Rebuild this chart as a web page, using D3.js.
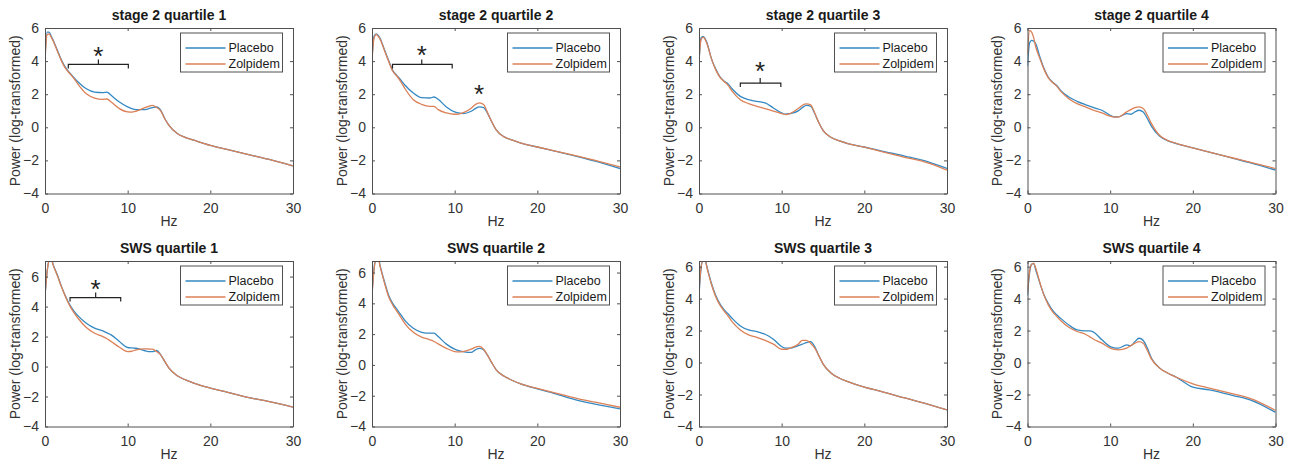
<!DOCTYPE html>
<html>
<head>
<meta charset="utf-8">
<script src="https://cdn.jsdelivr.net/npm/d3@7"></script>
<style>
  html, body { margin: 0; padding: 0; background: #fff; }
  svg { display: block; font-family: "Liberation Sans", Arial, sans-serif; }
</style>
</head>
<body>
<svg id="chart" width="1289" height="466"></svg>
<script>
// ---------------- DATA ----------------
const freq = [0,0.25,0.5,0.75,1,1.5,2,2.5,3,3.5,4,5,6,7,7.5,8,9,10,10.5,11,12,12.5,13,13.5,14,14.5,15,16,17,18,20,22,25,27,30];

const titles = ["stage 2 quartile 1","stage 2 quartile 2","stage 2 quartile 3","stage 2 quartile 4",
                "SWS quartile 1","SWS quartile 2","SWS quartile 3","SWS quartile 4"];
const seriesNames = ["Placebo","Zolpidem"];
const yMax = [6,6,6,6,7.04,6.75,6.35,6.35];
const yMin = -4;
const xTicks = [0,10,20,30];
const yTicks = [-4,-2,0,2,4,6];

const placebo = [
  [4.2,5.75,5.75,5.5,5.25,4.65,4.05,3.6,3.28,3.0,2.74,2.33,2.13,2.1,2.13,1.93,1.53,1.23,1.13,1.07,1.07,1.12,1.19,1.23,1.03,0.52,0.12,-0.38,-0.62,-0.78,-1.09,-1.33,-1.69,-1.93,-2.33],
  [4.2,5.5,5.65,5.55,5.35,4.7,4.05,3.44,3.14,2.85,2.54,2.07,1.79,1.77,1.83,1.69,1.23,0.93,0.87,0.83,0.97,1.13,1.23,1.19,0.83,0.32,-0.14,-0.58,-0.78,-0.95,-1.19,-1.43,-1.79,-2.05,-2.49],
  [3.9,5.4,5.5,5.35,5.05,4.15,3.55,3.08,2.8,2.64,2.33,1.87,1.67,1.57,1.53,1.47,1.17,0.87,0.79,0.83,0.99,1.19,1.33,1.27,0.83,0.27,-0.18,-0.62,-0.82,-0.98,-1.19,-1.42,-1.75,-1.99,-2.49],
  [3.7,5.1,5.25,5.2,5.05,4.25,3.55,3.04,2.74,2.54,2.23,1.83,1.57,1.37,1.28,1.19,1.03,0.73,0.63,0.63,0.83,0.79,0.93,1.03,0.93,0.53,0.06,-0.54,-0.82,-0.98,-1.25,-1.5,-1.89,-2.15,-2.59],
  [4.7,6.3,7.1,7.2,6.78,6.1,5.33,4.67,4.11,3.7,3.38,2.89,2.56,2.38,2.25,2.11,1.67,1.27,1.24,1.22,1.07,1.0,1.0,1.07,0.78,0.33,-0.11,-0.62,-0.89,-1.11,-1.44,-1.7,-2.11,-2.33,-2.71],
  [4.6,6.3,6.9,6.95,6.4,5.42,4.55,4.0,3.62,3.25,2.88,2.38,2.12,2.06,2.06,1.84,1.35,1.02,0.93,0.87,0.81,0.98,1.08,0.98,0.6,0.13,-0.3,-0.74,-1.01,-1.23,-1.56,-1.85,-2.32,-2.55,-2.86],
  [4.2,5.9,6.45,6.4,5.9,4.96,4.23,3.71,3.33,3.05,2.77,2.29,2.04,1.94,1.85,1.77,1.46,1.0,0.9,0.9,1.06,1.15,1.25,1.31,1.0,0.42,-0.08,-0.67,-0.98,-1.19,-1.54,-1.8,-2.23,-2.5,-2.96],
  [4.2,5.6,6.15,6.2,5.79,4.96,4.23,3.71,3.29,3.0,2.77,2.35,2.04,1.98,1.98,1.9,1.42,1.0,0.92,0.9,1.1,1.06,1.31,1.52,1.38,0.9,0.27,-0.35,-0.67,-0.92,-1.54,-1.71,-2.08,-2.35,-3.12]
];

const zolpidem = [
  [4.0,5.6,5.65,5.45,5.2,4.6,4.0,3.55,3.25,2.95,2.6,2.03,1.77,1.69,1.71,1.53,1.13,0.93,0.92,0.97,1.17,1.27,1.33,1.2,0.99,0.5,0.12,-0.38,-0.62,-0.78,-1.09,-1.33,-1.69,-1.93,-2.33],
  [4.0,5.4,5.6,5.5,5.3,4.65,4.0,3.4,3.1,2.75,2.33,1.67,1.39,1.27,1.27,1.07,0.87,0.79,0.8,0.87,1.15,1.38,1.48,1.38,0.87,0.32,-0.14,-0.58,-0.78,-0.95,-1.19,-1.42,-1.76,-2.0,-2.39],
  [4.0,5.3,5.45,5.3,5.0,4.15,3.5,3.05,2.78,2.55,2.19,1.67,1.43,1.27,1.2,1.13,0.97,0.83,0.77,0.83,1.13,1.33,1.41,1.35,0.87,0.27,-0.18,-0.62,-0.82,-0.98,-1.2,-1.45,-1.83,-2.05,-2.59],
  [4.4,5.85,5.75,5.4,4.85,4.15,3.5,3.0,2.72,2.5,2.19,1.73,1.43,1.23,1.13,1.03,0.87,0.67,0.62,0.63,0.93,1.07,1.19,1.23,1.13,0.73,0.22,-0.5,-0.8,-0.97,-1.24,-1.5,-1.87,-2.12,-2.49],
  [4.7,6.3,7.05,7.15,6.75,6.05,5.3,4.62,4.05,3.6,3.22,2.6,2.22,2.0,1.85,1.67,1.29,1.0,1.02,1.11,1.18,1.17,1.16,1.0,0.78,0.33,-0.11,-0.62,-0.89,-1.11,-1.44,-1.7,-2.11,-2.33,-2.71],
  [4.5,6.2,6.85,6.9,6.35,5.35,4.45,3.9,3.5,3.08,2.67,2.12,1.8,1.63,1.52,1.37,1.08,0.87,0.85,0.87,1.02,1.15,1.2,1.02,0.6,0.13,-0.3,-0.74,-1.01,-1.23,-1.52,-1.8,-2.2,-2.42,-2.75],
  [4.5,5.95,6.4,6.35,5.85,4.9,4.15,3.62,3.25,2.92,2.56,2.04,1.73,1.58,1.48,1.38,1.15,0.83,0.82,0.9,1.15,1.38,1.38,1.21,0.9,0.42,-0.08,-0.67,-0.98,-1.19,-1.54,-1.8,-2.23,-2.5,-2.96],
  [4.4,5.7,6.15,6.2,5.9,5.0,4.2,3.62,3.2,2.9,2.63,2.21,1.94,1.77,1.62,1.46,1.21,0.9,0.82,0.79,0.9,1.06,1.21,1.31,1.21,0.75,0.21,-0.35,-0.67,-0.92,-1.33,-1.6,-1.98,-2.25,-3.0]
];

// significance annotations (panel index, Hz range, y level in data units)
const brackets = [
  {panel:0, x0:2.82, x1:10.08, xc:6.46, y:3.8},
  {panel:1, x0:2.48, x1:9.7,  xc:6.02, y:3.8},
  {panel:2, x0:5.0,  x1:9.9,  xc:7.4,  y:2.67},
  {panel:4, x0:3.03, x1:9.16, xc:6.13, y:4.6}
];
const stars = [
  {panel:0, x:6.46, y:4.65},
  {panel:1, x:6.02, y:4.76},
  {panel:1, x:12.95, y:2.39},
  {panel:2, x:7.4, y:3.74},
  {panel:4, x:6.13, y:5.55}
];

// ---------------- LAYOUT ----------------
const colors = ["#3489c2", "#db8057"];
const axisColor = "#505050";
const textColor = "#333";
const lefts = [45, 372, 699, 1027.5];
const pw = 248;
const tops = [28, 261];
const ph = 165.5;

const svg = d3.select("#chart");

for (let p = 0; p < 8; p++) {
  const col = p % 4, row = Math.floor(p / 4);
  const L = lefts[col], T = tops[row];
  const x = d3.scaleLinear().domain([0, 30]).range([L, L + pw]);
  const y = d3.scaleLinear().domain([yMin, yMax[p]]).range([T + ph, T]);
  const g = svg.append("g");

  const clipId = "clip" + p;
  svg.append("clipPath").attr("id", clipId).append("rect")
    .attr("x", L).attr("y", T).attr("width", pw).attr("height", ph);

  // lines
  const line = d3.line().x((d, i) => x(freq[i])).y(d => y(d)).curve(d3.curveMonotoneX);
  [placebo[p], zolpidem[p]].forEach((vals, si) => {
    g.append("path").attr("d", line(vals))
      .attr("fill", "none").attr("stroke", colors[si]).attr("stroke-width", 1.3)
      .attr("clip-path", `url(#${clipId})`);
  });

  // axes (MATLAB style: inward ticks, box)
  const styleAxis = sel => {
    sel.select(".domain").attr("stroke", axisColor).attr("stroke-width", 1);
    sel.selectAll(".tick line").attr("stroke", axisColor);
    sel.selectAll("text").attr("fill", textColor).attr("font-size", "14px")
      .attr("font-family", '"Liberation Sans", Arial, sans-serif');
  };
  g.append("g").attr("transform", `translate(0,${T + ph})`)
    .call(d3.axisBottom(x).tickValues(xTicks).tickSizeInner(-3).tickSizeOuter(0).tickPadding(9.5))
    .call(styleAxis);
  g.append("g").attr("transform", `translate(0,${T})`)
    .call(d3.axisTop(x).tickValues(xTicks).tickSizeInner(-3).tickSizeOuter(0).tickFormat(""))
    .call(styleAxis);
  g.append("g").attr("transform", `translate(${L},0)`)
    .call(d3.axisLeft(y).tickValues(yTicks).tickSizeInner(-3).tickSizeOuter(0).tickPadding(6))
    .call(styleAxis);
  g.append("g").attr("transform", `translate(${L + pw},0)`)
    .call(d3.axisRight(y).tickValues(yTicks).tickSizeInner(-3).tickSizeOuter(0).tickFormat(""))
    .call(styleAxis);
  g.selectAll(".domain").attr("fill", "none");

  // title
  g.append("text").attr("x", L + pw / 2).attr("y", T - 8)
    .attr("text-anchor", "middle").attr("font-size", "14px").attr("font-weight", "bold")
    .attr("fill", "#1a1a1a").text(titles[p]);
  // x label
  g.append("text").attr("x", L + pw / 2).attr("y", T + ph + 32)
    .attr("text-anchor", "middle").attr("font-size", "14px").attr("fill", textColor).text("Hz");
  // y label
  g.append("text").attr("transform", `translate(${L - 30},${T + ph / 2}) rotate(-90)`)
    .attr("text-anchor", "middle").attr("dy", "0.35em")
    .attr("font-size", "14px").attr("fill", textColor).text("Power (log-transformed)");

  // legend
  const lw = 102, lh = 39;
  const lx = L + pw - 10.5 - lw, ly = T + 5;
  const lg = g.append("g").attr("transform", `translate(${lx},${ly})`);
  lg.append("rect").attr("width", lw).attr("height", lh)
    .attr("fill", "#fff").attr("stroke", axisColor).attr("stroke-width", 1);
  seriesNames.forEach((name, si) => {
    const yy = 15 + si * 16;
    lg.append("line").attr("x1", 5).attr("x2", 45).attr("y1", yy).attr("y2", yy)
      .attr("stroke", colors[si]).attr("stroke-width", 1.3);
    lg.append("text").attr("x", 48).attr("y", yy).attr("dy", "0.35em")
      .attr("font-size", "12.5px").attr("fill", "#1a1a1a").text(name);
  });

  // annotations
  brackets.filter(b => b.panel === p).forEach(b => {
    const yy = y(b.y);
    const path = `M${x(b.x0)},${yy + 4} V${yy} H${x(b.x1)} V${yy + 4} M${x(b.xc)},${yy} V${yy - 5}`;
    g.append("path").attr("d", path).attr("fill", "none")
      .attr("stroke", "#222").attr("stroke-width", 1.2);
  });
  stars.filter(s => s.panel === p).forEach(s => {
    g.append("text").attr("x", x(s.x)).attr("y", y(s.y) + 15)
      .attr("text-anchor", "middle").attr("font-size", "26px").attr("fill", "#222").text("*");
  });
}
</script>
</body>
</html>
